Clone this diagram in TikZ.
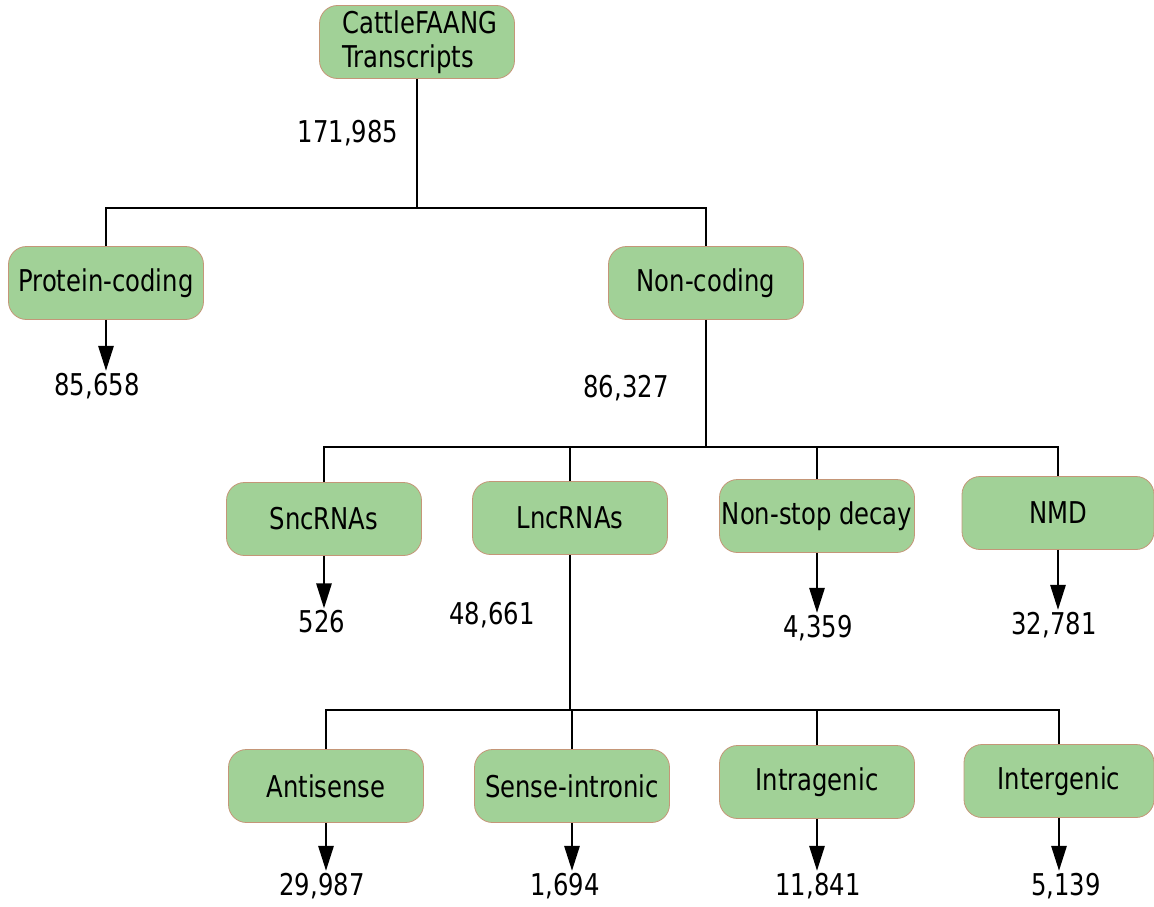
\documentclass[tikz,border=0pt]{standalone}
\usepackage{fontspec}
\setmainfont{DejaVu Sans Condensed}[FakeStretch=0.9]
\usetikzlibrary{arrows.meta}
\definecolor{boxgreen}{RGB}{161,209,151}
\definecolor{boxedge}{RGB}{196,150,120}
\tikzset{
  catbox/.style={draw=boxedge, line width=0.8pt, fill=boxgreen, rounded corners=18pt,
    minimum width=195pt, minimum height=73pt, inner sep=1pt,
    font=\fontsize{30}{34}\selectfont},
  count/.style={inner sep=2pt, font=\fontsize{30}{34}\selectfont},
  link/.style={line width=2.8pt},
  down/.style={line width=2.8pt, -{Triangle[length=25pt,width=15pt]}},
}
\begin{document}
\begin{tikzpicture}[x=1pt,y=-1pt]
    \useasboundingbox (0,0) rectangle (1154,907);

    % top level
    \node[catbox, align=left] (cattle) at (417,42) {\hspace{6pt}CattleFAANG\\\hspace{6pt}Transcripts};
    \node[count] (total) at (348,133) {171,985};
    \coordinate (split1) at (417,208);
    \node[catbox] (protein) at (106,283) {Protein-coding};
    \node[catbox] (noncoding) at (706,283) {Non-coding};
    \draw[link] (cattle) -- (split1);
    \draw[link] (protein.north) |- (split1) -| (noncoding.north);

    \node[count] (nprotein) at (97,386) {85,658};
    \draw[down] (protein) -- (protein.south |- nprotein.north);

    % non-coding classes
    \node[count] (nnoncoding) at (626,388) {86,327};
    \coordinate (split2) at (706,447);
    \node[catbox] (snc) at (324,519) {SncRNAs};
    \node[catbox] (lnc) at (570,518) {LncRNAs};
    \node[catbox] (nonstop) at (817,516) {Non-stop decay};
    \node[catbox, minimum width=192pt] (nmd) at (1058,513) {NMD};
    \draw[link] (noncoding) -- (split2);
    \draw[link] (snc.north) |- (split2) -| (nmd.north);
    \draw[link] (lnc.north) -- (lnc.north |- split2);
    \draw[link] (nonstop.north) -- (nonstop.north |- split2);

    \node[count] (nsnc) at (322,622) {526};
    \node[count] (nlnc) at (492,615) {48,661};
    \node[count] (nnonstop) at (818,628) {4,359};
    \node[count] (nnmd) at (1054,625) {32,781};
    \draw[down] (snc) -- (snc.south |- nsnc.north);
    \draw[down] (nonstop) -- (nonstop.south |- nnonstop.north);
    \draw[down] (nmd) -- (nmd.south |- nnmd.north);

    % lncRNA classes
    \coordinate (split3) at (570,710);
    \node[catbox] (antisense) at (326,786) {Antisense};
    \node[catbox] (sense) at (572,786) {Sense-intronic};
    \node[catbox] (intra) at (817,782) {Intragenic};
    \node[catbox, minimum width=190pt] (inter) at (1059,781) {Intergenic};
    \draw[link] (lnc) -- (split3);
    \draw[link] (antisense.north) |- (split3) -| (inter.north);
    \draw[link] (sense.north) -- (sense.north |- split3);
    \draw[link] (intra.north) -- (intra.north |- split3);

    \node[count] (nanti) at (322,886) {29,987};
    \node[count] (nsense) at (565,886) {1,694};
    \node[count] (nintra) at (818,886) {11,841};
    \node[count] (ninter) at (1066,886) {5,139};
    \draw[down] (antisense) -- (antisense.south |- nanti.north);
    \draw[down] (sense) -- (sense.south |- nsense.north);
    \draw[down] (intra) -- (intra.south |- nintra.north);
    \draw[down] (inter) -- (inter.south |- ninter.north);

\end{tikzpicture}
\end{document}
